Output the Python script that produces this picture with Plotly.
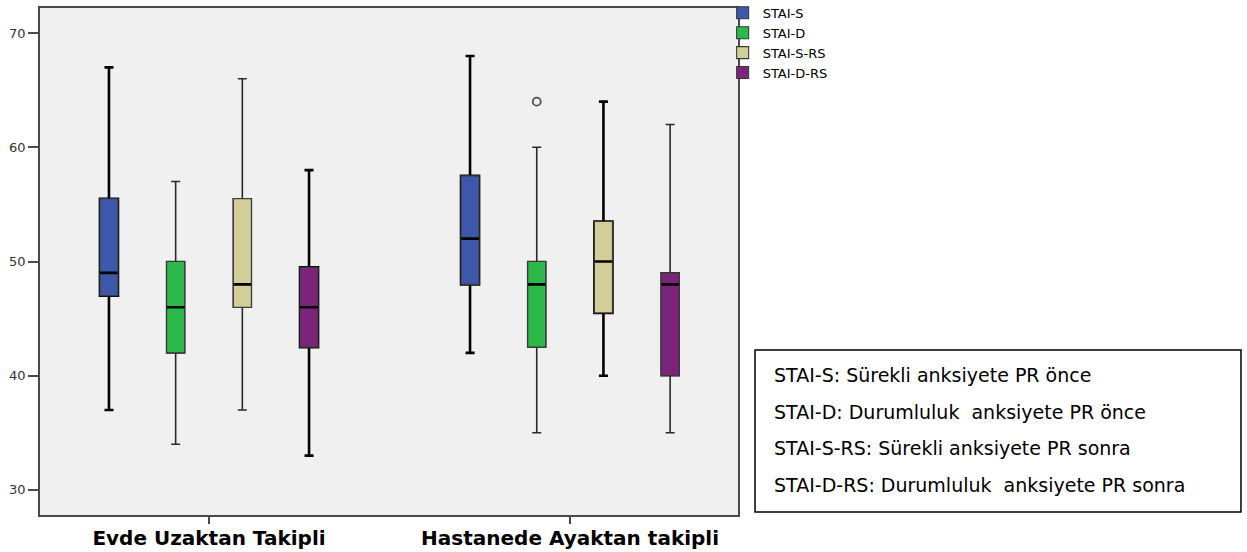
import plotly.graph_objects as go

groups = ["Evde Uzaktan Takipli", "Hastanede Ayaktan takipli"]
series = ["STAI-S", "STAI-D", "STAI-S-RS", "STAI-D-RS"]
colors = ["#3D58AA", "#2DB84A", "#D3CE97", "#7B2479"]

# per series: values for [group1, group2]
lower = {"STAI-S": [37, 42], "STAI-D": [34, 35], "STAI-S-RS": [37, 40], "STAI-D-RS": [33, 35]}
q1 = {"STAI-S": [47, 48], "STAI-D": [42, 42.5], "STAI-S-RS": [46, 45.5], "STAI-D-RS": [42.5, 40]}
med = {"STAI-S": [49, 52], "STAI-D": [46, 48], "STAI-S-RS": [48, 50], "STAI-D-RS": [46, 48]}
q3 = {"STAI-S": [55.5, 57.5], "STAI-D": [50, 50], "STAI-S-RS": [55.5, 53.5], "STAI-D-RS": [49.5, 49]}
upper = {"STAI-S": [67, 68], "STAI-D": [57, 60], "STAI-S-RS": [66, 64], "STAI-D-RS": [58, 62]}
outliers = {"STAI-D": [(1, 64)]}  # (group index, value)

thick_whisker = {"STAI-S": [True, True], "STAI-D": [False, False],
                 "STAI-S-RS": [False, True], "STAI-D-RS": [True, False]}

y_ticks = [30, 40, 50, 60, 70]
legend_notes = [
    "STAI-S: Sürekli anksiyete PR önce",
    "STAI-D: Durumluluk\u00a0 anksiyete PR önce",
    "STAI-S-RS: Sürekli anksiyete PR sonra",
    "STAI-D-RS: Durumluluk\u00a0 anksiyete PR sonra",
]

spacing = 0.1847
offsets = [(i - 1.5) * spacing for i in range(len(series))]
box_w = 0.05

fig = go.Figure()
for si, s in enumerate(series):
    for gi in range(len(groups)):
        xpos = gi + offsets[si]
        thick = thick_whisker[s][gi]
        # whiskers layer
        fig.add_trace(go.Box(
            x=[xpos], q1=[q1[s][gi]], median=[med[s][gi]], q3=[q3[s][gi]],
            lowerfence=[lower[s][gi]], upperfence=[upper[s][gi]],
            width=box_w, whiskerwidth=0.5,
            line=dict(color="#000000" if thick else "#2a2a2a", width=2.6 if thick else 1.6),
            fillcolor=colors[si], showlegend=False, hoverinfo="skip", boxpoints=False,
        ))
        # box layer (thin border)
        fig.add_trace(go.Box(
            x=[xpos], q1=[q1[s][gi]], median=[med[s][gi]], q3=[q3[s][gi]],
            lowerfence=[q1[s][gi]], upperfence=[q3[s][gi]],
            width=box_w, whiskerwidth=0,
            line=dict(color="#3a3a3a", width=1.1),
            fillcolor=colors[si], name=s, legendgroup=s,
            showlegend=(gi == 0), boxpoints=False,
        ))
        # median layer
        m = med[s][gi]
        fig.add_trace(go.Box(
            x=[xpos], q1=[m], median=[m], q3=[m], lowerfence=[m], upperfence=[m],
            width=box_w * 0.97, whiskerwidth=0,
            line=dict(color="#000000", width=2.6),
            fillcolor="rgba(0,0,0,0)", showlegend=False, hoverinfo="skip", boxpoints=False,
        ))

for s, pts in outliers.items():
    si = series.index(s)
    fig.add_trace(go.Scatter(
        x=[g + offsets[si] for g, v in pts], y=[v for g, v in pts], mode="markers",
        marker=dict(symbol="circle-open", size=8, color="#505050", line=dict(width=1.8)),
        showlegend=False,
    ))

fig.add_shape(type="rect", xref="paper", yref="paper",
              x0=1.0244, x1=1.7206, y0=0.0059, y1=0.3254,
              line=dict(color="#000000", width=1.5), fillcolor="rgba(0,0,0,0)")
note_y = [0.2761, 0.2032, 0.1321, 0.0592]
for txt, yy in zip(legend_notes, note_y):
    fig.add_annotation(text=txt, xref="paper", yref="paper", x=1.0487, y=yy,
                       xanchor="left", yanchor="middle", showarrow=False,
                       font=dict(family="DejaVu Sans", size=19, color="#000000"))

fig.update_layout(
    width=1247, height=552,
    margin=dict(l=40, r=509, t=8, b=37, autoexpand=False),
    plot_bgcolor="#F0F0F0", paper_bgcolor="#FFFFFF",
    legend=dict(x=0.978, y=1.02, xanchor="left", yanchor="top",
                font=dict(family="DejaVu Sans", size=13, color="#000000"),
                itemwidth=30, bgcolor="rgba(0,0,0,0)", tracegroupgap=0),
    showlegend=True,
)
fig.update_xaxes(
    range=[-0.468, 1.465], tickvals=list(range(len(groups))), ticktext=groups,
    showgrid=False, zeroline=False, showline=True, mirror=True, automargin=False,
    linecolor="#4a4a4a", linewidth=1.5, ticks="outside", ticklen=7, tickwidth=1.5,
    tickcolor="#4a4a4a", ticklabelstandoff=-3,
    tickfont=dict(family="DejaVu Sans", size=20, color="#000000", weight="bold"),
)
fig.update_yaxes(
    range=[27.8, 72.2], tickvals=y_ticks, showgrid=False, zeroline=False,
    showline=True, mirror=True, linecolor="#4a4a4a", linewidth=1.5, automargin=False,
    ticks="outside", ticklen=10, tickwidth=1.5, tickcolor="#4a4a4a",
    tickfont=dict(family="DejaVu Sans", size=13, color="#333333"),
)

fig.write_html("out.html", config={"displayModeBar": False},
               post_script="document.body.style.margin='0';")
